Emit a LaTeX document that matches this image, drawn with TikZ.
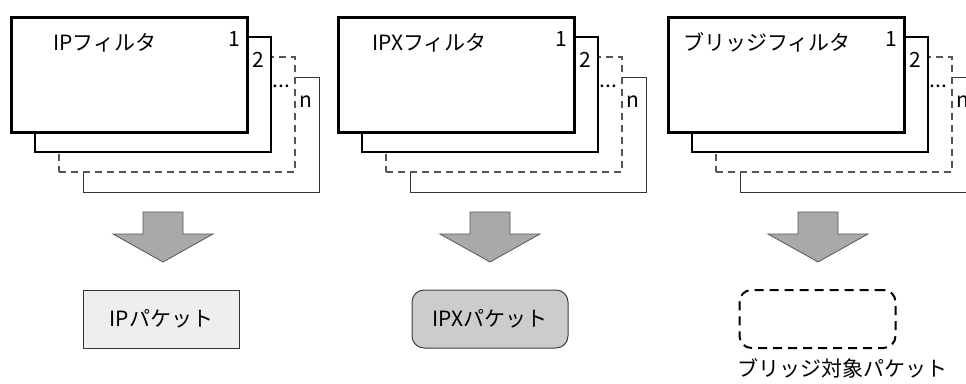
\documentclass[tikz,border=0pt]{standalone}
\usepackage{fontspec}
\setmainfont{Noto Sans CJK JP}
\definecolor{arrowgray}{HTML}{A9A9A9}
\definecolor{ippkt}{HTML}{EEEEEE}
\definecolor{ipxpkt}{HTML}{CCCCCC}
\definecolor{linegray}{HTML}{555555}
\newcommand{\sheetdots}{...}
\tikzset{
  sheet/.style={fill=white, minimum width=236pt, minimum height=115pt, inner sep=0pt},
  txt/.style={font=\fontsize{21}{25}\selectfont, inner sep=0pt},
  blockarrow/.style={fill=arrowgray, draw=linegray, line width=0.8pt, line join=miter},
  packet/.style={minimum width=156pt, minimum height=58pt, inner sep=0pt}
}
% one stack of filter sheets: x offset, title, title shift, name
\newcommand{\drawstack}[4]{
  \node[sheet, draw=black!80, line width=1pt] (#4s4) at (#1+201, 134.5) {};
  \node[sheet, draw=linegray, line width=1.3pt, dash pattern=on 7pt off 5pt] (#4s3) at (#1+177, 114.5) {};
  \node[sheet, draw=black, line width=2pt] (#4s2) at (#1+153, 94.5) {};
  \node[sheet, draw=black, line width=3pt] (#4s1) at (#1+129, 74.5) {};
  \node[txt, anchor=base west] (#4title) at (#1+53+#3, 50) {#2};
  \foreach \k/\lbl in {1/1, 2/2, 3/\sheetdots, 4/n} {
    \node[txt, anchor=base] (#4n\k) at ([xshift=-14pt, yshift=-31pt]#4s\k.north east) {\lbl};
  }
}

\begin{document}
\begin{tikzpicture}[x=1pt, y=-1pt]
    \clip (0,0) rectangle (966,383);
    \useasboundingbox (0,0) rectangle (966,383);

    \drawstack{0}{IPフィルタ}{0}{ip}
    \drawstack{327}{IPXフィルタ}{-8}{ipx}
    \drawstack{657}{ブリッジフィルタ}{-27}{br}

    % arrows
    \foreach \tx in {163, 490, 818} {
      \draw[blockarrow] (\tx-20, 212) -- (\tx+20, 212) -- (\tx+20, 234) -- (\tx+50, 234)
        -- (\tx, 262) -- (\tx-50, 234) -- (\tx-20, 234) -- cycle;
    }

    % packets
    \node[packet, txt, fill=ippkt, draw=black!80, line width=1pt] (ippkt) at (161.5, 319) {IPパケット};
    \node[packet, txt, fill=ipxpkt, draw=black!75, line width=1pt, rounded corners=12pt] (ipxpkt) at (490, 319) {IPXパケット};
    \node[packet, draw=black, line width=2pt, rounded corners=12pt, dash pattern=on 9pt off 6pt] (brpkt) at (817.5, 319) {};
    \node[txt, anchor=base west] (brlbl) at (737, 376) {ブリッジ対象パケット};
\end{tikzpicture}
\end{document}
